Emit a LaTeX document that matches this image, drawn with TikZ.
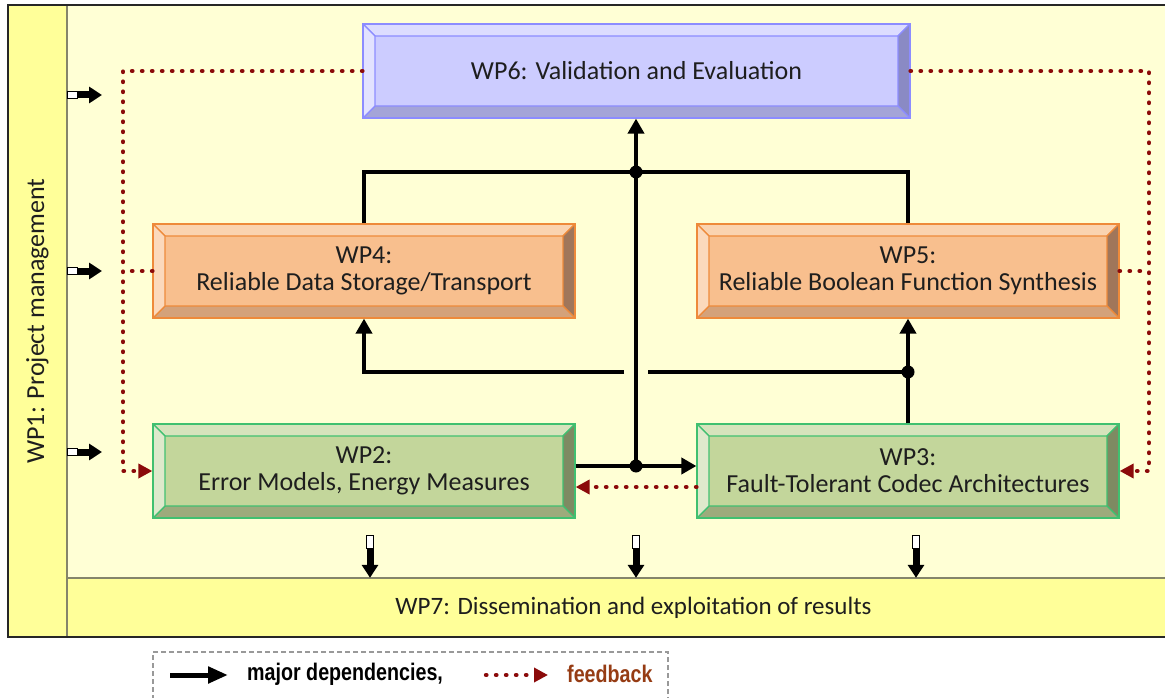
\documentclass[tikz,border=0pt]{standalone}
\usepackage{fontspec}
\setmainfont{Carlito}
\newfontfamily\legendfont[FakeStretch=0.82]{Liberation Sans}
\usetikzlibrary{arrows.meta,calc}

\definecolor{paper}{HTML}{FFFFD5}
\definecolor{band}{HTML}{FFFF99}
\definecolor{rule}{HTML}{85856A}
\definecolor{frameline}{HTML}{262626}
\definecolor{ink}{HTML}{1E1E1E}
\definecolor{fbred}{HTML}{8B0A0A}
\definecolor{fbtext}{HTML}{963C14}
% validation package (blue)
\definecolor{blueface}{HTML}{CCCCFF}
\definecolor{bluetop}{HTML}{DCDCFF}
\definecolor{blueleft}{HTML}{E2E2FF}
\definecolor{blueright}{HTML}{8A8AC4}
\definecolor{bluebot}{HTML}{A4A4D8}
\definecolor{blueedge}{HTML}{8C8CFF}
% reliability packages (orange)
\definecolor{orangeface}{HTML}{F8BF8E}
\definecolor{orangetop}{HTML}{FAD3B0}
\definecolor{orangeleft}{HTML}{FBD9BC}
\definecolor{orangeright}{HTML}{A0765A}
\definecolor{orangebot}{HTML}{D4A27A}
\definecolor{orangeedge}{HTML}{EE8A3A}
% foundation packages (green)
\definecolor{greenface}{HTML}{C3D69B}
\definecolor{greentop}{HTML}{D6E3BC}
\definecolor{greenleft}{HTML}{DEE9CC}
\definecolor{greenright}{HTML}{7E8A62}
\definecolor{greenbot}{HTML}{9DAB7C}
\definecolor{greenedge}{HTML}{40C070}

\tikzset{
  wpbox/.style={rectangle, inner sep=0pt, minimum width=422pt, minimum height=94pt,
    align=center, text=ink, font=\fontsize{26}{27}\selectfont,
    fill=#1face, draw=#1edge, line width=1.2pt,
    path picture={
      \path (path picture bounding box.north west) coordinate (o1)
            (path picture bounding box.north east) coordinate (o2)
            (path picture bounding box.south east) coordinate (o3)
            (path picture bounding box.south west) coordinate (o4);
      \path (o1) ++(12pt,-12pt) coordinate (i1)
            (o2) ++(-12pt,-12pt) coordinate (i2)
            (o3) ++(-12pt,12pt) coordinate (i3)
            (o4) ++(12pt,12pt) coordinate (i4);
      \filldraw[fill=#1top, draw=#1edge, line width=1.1pt] (o1) -- (o2) -- (i2) -- (i1) -- cycle;
      \filldraw[fill=#1right, draw=#1edge, line width=1.1pt] (o2) -- (o3) -- (i3) -- (i2) -- cycle;
      \filldraw[fill=#1bot, draw=#1edge, line width=1.1pt] (o3) -- (o4) -- (i4) -- (i3) -- cycle;
      \filldraw[fill=#1left, draw=#1edge, line width=1.1pt] (o4) -- (o1) -- (i1) -- (i4) -- cycle;
    }},
  bandbox/.style={rectangle, inner sep=0pt, fill=band, text=ink},
  major/.style={draw=black, line width=4.5pt},
  majorarrow/.style={major, -{Triangle[length=15pt,width=16pt]}},
  junction/.style={circle, fill=black, inner sep=0pt, minimum size=13pt},
  fb/.style={draw=fbred, line width=4.4pt, line cap=round, dash pattern=on 0.4pt off 9.6pt},
  fbarrow/.style={fb, -{Triangle[length=14pt,width=14pt]}},
  inarrow/.style={draw=black, line width=7pt, -{Triangle[length=13pt,width=16pt]}},
  stub/.style={fill=white, draw=black, line width=1pt},
  legendtext/.style={inner sep=0pt, anchor=west, font=\legendfont\bfseries\fontsize{24}{26}\selectfont}
}

\begin{document}
\begin{tikzpicture}[x=1pt, y=-1pt]
\useasboundingbox (0,0) rectangle (1165,698);
\fill[white] (0,0) rectangle (1165,698);

% project frame
\fill[paper] (8,5) rectangle (1200,637);
\node[bandbox, rotate=90, minimum width=632pt, minimum height=59pt,
      font=\fontsize{26}{28}\selectfont] (wp1) at (37.5,321) {WP1: Project management};
\node[bandbox, minimum width=1133pt, minimum height=59pt,
      font=\fontsize{25}{27}\selectfont] (wp7) at (633.5,607.5) {WP7: Dissemination and exploitation of results};
\draw[rule, line width=2pt] (67,5) -- (67,637);
\draw[rule, line width=2pt] (67,578) -- (1200,578);
\draw[frameline, line width=2pt] (8,5) rectangle (1200,637);

% work packages
\node[wpbox=blue, minimum width=547pt] (wp6) at (636.5,71) {WP6: Validation and Evaluation};
\node[wpbox=orange] (wp4) at (364,271) {WP4:\\Reliable Data Storage/Transport};
\node[wpbox=orange] (wp5) at (908,271) {WP5:\\Reliable Boolean Function Synthesis};
\node[wpbox=green] (wp2) at (364,471) {WP2:\\Error Models, Energy Measures};
\node[wpbox=green] (wp3) at (908,471) {WP3:\\Fault-Tolerant Codec Architectures};

% junction points
\coordinate (j1pos) at (636,466);
\coordinate (j2pos) at (636,172);
\coordinate (j3pos) at (908,372);
\coordinate (gapR) at (648,372);
\coordinate (gapL) at (624,372);

% major dependencies
\draw[majorarrow] ([yshift=5pt]wp2.east) -- ([yshift=5pt]wp3.west);
\draw[majorarrow] (j1pos) -- (j1pos |- wp6.south);
\draw[major] (wp4.north) |- (j2pos) -| (wp5.north);
\draw[majorarrow] (wp3.north) -- (wp5.south);
\draw[major] (j3pos) -- (gapR);
\draw[majorarrow] (gapL) -| (wp4.south);
\node[junction] (j1) at (j1pos) {};
\node[junction] (j2) at (j2pos) {};
\node[junction] (j3) at (j3pos) {};

% feedback
\coordinate (fbL) at (123,471);
\coordinate (fbR) at (1149,471);
\draw[fbarrow] (wp6.west) -| (fbL) -- (wp2.west);
\draw[fb] (wp4.west) -- (wp4.west -| fbL);
\draw[fbarrow] (wp6.east) -| (fbR) -- (wp3.east);
\draw[fb] (wp5.east) -- (wp5.east -| fbR);
\draw[fbarrow] ([yshift=-16pt]wp3.west) -- ([yshift=-16pt]wp2.east);

% management inputs
\foreach \y/\n in {95/a, 271/b, 452/c} {
  \coordinate (in\n) at (102,\y);
  \draw[inarrow] (wp1.south |- in\n) -- (in\n);
  \draw[stub] (wp1.south |- in\n) ++(0,-3.5) rectangle ++(10,7);
}

% outputs towards dissemination
\foreach \x/\n in {370/a, 636/b, 916/c} {
  \coordinate (out\n) at (\x,535);
  \draw[inarrow] (out\n) -- (out\n |- wp7.north);
  \draw[stub] (out\n) ++(-3.5,0) rectangle ++(7,13);
}

% legend
\node[rectangle, draw=black!40, dash pattern=on 5pt off 3pt, line width=1.2pt,
      minimum width=515pt, minimum height=63pt, inner sep=0pt] (legend) at (410.5,683.5) {};
\coordinate (la) at (170,675);
\coordinate (lb) at (228,675);
\draw[draw=black, line width=5pt, -{Triangle[length=20pt,width=16pt]}] (la) -- (lb);
\node[legendtext, text=black] (ldep) at (247,674) {major dependencies,};
\coordinate (lc) at (486,675);
\coordinate (ld) at (548,675);
\draw[fbarrow] (lc) -- (ld);
\node[legendtext, text=fbtext] (lfb) at (567,674) {feedback};
\end{tikzpicture}
\end{document}
